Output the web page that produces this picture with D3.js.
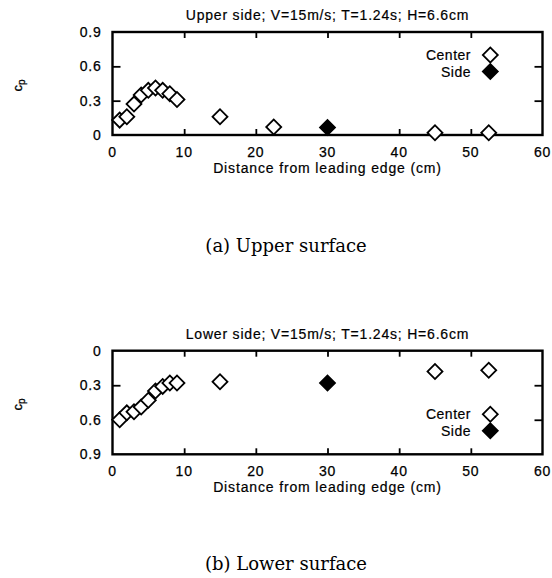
<!DOCTYPE html>
<html>
<head>
<meta charset="utf-8">
<script src="https://cdn.jsdelivr.net/npm/d3@7"></script>
<style>
  html, body { margin: 0; padding: 0; background: #fff; }
  svg { display: block; }
  .sans { font-family: "Liberation Sans", Arial, Helvetica, sans-serif; fill: #000; }
  .cap { font-family: "DejaVu Serif", serif; fill: #000; }
</style>
</head>
<body>
<svg id="fig" width="552" height="578"></svg>
<script>
// Pressure coefficient along the plate, distance from leading edge (cm)
const upperCenterX = [1, 2, 3, 4, 5, 6, 7, 8, 9, 15, 22.5, 45, 52.5];
const upperCenterCp = [0.13, 0.16, 0.27, 0.35, 0.39, 0.41, 0.39, 0.36, 0.31, 0.16, 0.07, 0.02, 0.02];
const upperSideX = [30];
const upperSideCp = [0.065];

const lowerCenterX = [1, 2, 3, 4, 5, 6, 7, 8, 9, 15, 45, 52.5];
const lowerCenterCp = [0.60, 0.54, 0.53, 0.49, 0.43, 0.35, 0.31, 0.28, 0.28, 0.27, 0.18, 0.17];
const lowerSideX = [30];
const lowerSideCp = [0.28];

const xTicks = [0, 10, 20, 30, 40, 50, 60];
const yTicks = [0, 0.3, 0.6, 0.9];
const legendLabels = ["Center", "Side"];

const titles = [
  "Upper side; V=15m/s; T=1.24s; H=6.6cm",
  "Lower side; V=15m/s; T=1.24s; H=6.6cm"
];
const captions = ["(a) Upper surface", "(b) Lower surface"];

const svg = d3.select("#fig");
const left = 112.5, right = 542.5;

const panels = [
  { top: 32, bottom: 135, reversed: false, legendTop: 55,
    cx: upperCenterX, cy: upperCenterCp, sx: upperSideX, sy: upperSideCp,
    title: titles[0], caption: captions[0], captionY: 252 },
  { top: 350.7, bottom: 454.3, reversed: true, legendTop: 414.3,
    cx: lowerCenterX, cy: lowerCenterCp, sx: lowerSideX, sy: lowerSideCp,
    title: titles[1], caption: captions[1], captionY: 570 }
];

const diamond = d3.symbol().type(d3.symbolSquare).size(112);

panels.forEach(p => {
  const x = d3.scaleLinear().domain([0, 60]).range([left, right]);
  const y = d3.scaleLinear().domain([0, 0.9])
    .range(p.reversed ? [p.top, p.bottom] : [p.bottom, p.top]);

  const g = svg.append("g");

  // inward ticks on all four sides
  const tickLen = 6;
  const inner = xTicks.filter(t => t > 0 && t < 60);
  const innerY = yTicks.filter(t => t > 0 && t < 0.9);

  const bottomAxis = d3.axisBottom(x).tickValues(inner).tickSize(-tickLen).tickFormat("");
  const topAxis = d3.axisTop(x).tickValues(inner).tickSize(-tickLen).tickFormat("");
  const leftAxis = d3.axisLeft(y).tickValues(innerY).tickSize(-8).tickFormat("");
  const rightAxis = d3.axisRight(y).tickValues(innerY).tickSize(-8).tickFormat("");

  [[bottomAxis, `translate(0,${p.bottom})`], [topAxis, `translate(0,${p.top})`],
   [leftAxis, `translate(${left},0)`], [rightAxis, `translate(${right},0)`]]
    .forEach(([ax, tr]) => {
      const a = g.append("g").attr("transform", tr).call(ax);
      a.select(".domain").remove();
      a.selectAll(".tick line").attr("stroke", "#000").attr("stroke-width", 1.8);
    });

  // frame
  g.append("rect")
    .attr("x", left).attr("y", p.top)
    .attr("width", right - left).attr("height", p.bottom - p.top)
    .attr("fill", "none").attr("stroke", "#000").attr("stroke-width", 2.4);

  // tick labels
  g.selectAll(".xl").data(xTicks).join("text")
    .attr("class", "sans")
    .attr("x", d => x(d)).attr("y", p.bottom + 22)
    .attr("text-anchor", "middle")
    .style("font-size", "14px").style("letter-spacing", "0.8px")
    .attr("stroke", "#000").attr("stroke-width", 0.25)
    .text(d => d);

  g.selectAll(".yl").data(yTicks).join("text")
    .attr("class", "sans")
    .attr("x", 101.5).attr("y", d => y(d) + 5)
    .attr("text-anchor", "end")
    .style("font-size", "14px").style("letter-spacing", "0.8px")
    .attr("stroke", "#000").attr("stroke-width", 0.25)
    .text(d => d === 0 ? "0" : d3.format(".1f")(d));

  // title
  g.append("text").attr("class", "sans")
    .attr("x", (left + right) / 2).attr("y", p.top - 12)
    .attr("text-anchor", "middle")
    .style("font-size", "14px").style("letter-spacing", "0.8px")
    .attr("stroke", "#000").attr("stroke-width", 0.2)
    .text(p.title);

  // x axis label
  g.append("text").attr("class", "sans")
    .attr("x", (left + right) / 2).attr("y", p.bottom + 38)
    .attr("text-anchor", "middle")
    .style("font-size", "14px").style("letter-spacing", "0.85px")
    .attr("stroke", "#000").attr("stroke-width", 0.2)
    .text("Distance from leading edge (cm)");

  // y axis label c_p
  const yl = g.append("text").attr("class", "sans")
    .attr("transform", `translate(22,${(p.top + p.bottom) / 2 + 2}) rotate(-90)`)
    .attr("text-anchor", "middle")
    .attr("stroke", "#000").attr("stroke-width", 0.3)
    .style("font-size", "13px");
  yl.append("tspan").text("c");
  yl.append("tspan").attr("dy", 3).style("font-size", "10px").text("p");

  // data markers
  const pts = g.append("g");
  pts.selectAll(".c").data(p.cx.map((d, i) => [d, p.cy[i]])).join("path")
    .attr("d", diamond)
    .attr("transform", d => `translate(${x(d[0])},${y(d[1])}) rotate(45)`)
    .attr("fill", "#fff").attr("stroke", "#000").attr("stroke-width", 1.8);
  pts.selectAll(".s").data(p.sx.map((d, i) => [d, p.sy[i]])).join("path")
    .attr("d", diamond)
    .attr("transform", d => `translate(${x(d[0])},${y(d[1])}) rotate(45)`)
    .attr("fill", "#000").attr("stroke", "#000").attr("stroke-width", 1.8);

  // legend
  legendLabels.forEach((lab, i) => {
    const ly = p.legendTop + i * 16.5;
    g.append("text").attr("class", "sans")
      .attr("x", 471).attr("y", ly + 5)
      .attr("text-anchor", "end")
      .style("font-size", "14px").style("letter-spacing", "0.5px")
      .attr("stroke", "#000").attr("stroke-width", 0.2)
      .text(lab);
    g.append("path").attr("d", diamond)
      .attr("transform", `translate(490.3,${ly}) rotate(45)`)
      .attr("fill", i === 0 ? "#fff" : "#000")
      .attr("stroke", "#000").attr("stroke-width", 1.8);
  });

  // caption
  svg.append("text").attr("class", "cap")
    .attr("x", 286).attr("y", p.captionY)
    .attr("text-anchor", "middle")
    .style("font-size", "18px")
    .text(p.caption);
});
</script>
</body>
</html>
